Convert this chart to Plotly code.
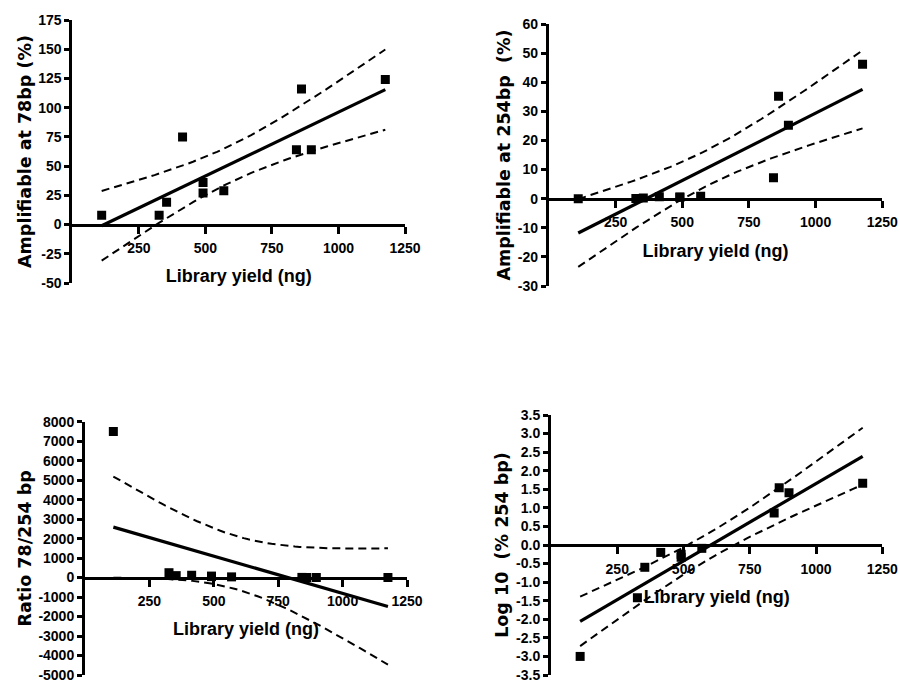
import numpy as np
import plotly.graph_objects as go

# ---------------- data ----------------
library_yield = [110, 326, 354, 414, 491, 491, 569, 842, 861, 898, 1176]
amplifiable_78bp = [8, 8, 19, 75, 36, 27, 29, 64, 116, 64, 124]
amplifiable_254bp = [0.001, 0.038, 0.25, 0.63, 0.47, 0.56, 0.81, 7.2, 35.2, 25.2, 46.2]
ratio_78_254 = [7500, 250, 100, 119, 77, 48, 36, 9, 3, 3, 3]
log10_254bp = [-3.0, -1.42, -0.6, -0.2, -0.33, -0.25, -0.09, 0.86, 1.54, 1.41, 1.66]

x_tick_vals = [250, 500, 750, 1000, 1250]
y1_ticks = [-50, -25, 0, 25, 50, 75, 100, 125, 150, 175]
y2_ticks = [-30, -20, -10, 0, 10, 20, 30, 40, 50, 60]
y3_ticks = [-5000, -4000, -3000, -2000, -1000, 0, 1000, 2000, 3000, 4000, 5000, 6000, 7000, 8000]
y4_ticks = [-3.5, -3.0, -2.5, -2.0, -1.5, -1.0, -0.5, 0.0, 0.5, 1.0, 1.5, 2.0, 2.5, 3.0, 3.5]

x_title = "Library yield (ng)"
y_titles = ["Amplifiable at 78bp (%)",
            "Amplifiable at 254bp\u00a0 (%)",
            "Ratio 78/254 bp",
            "Log 10\u00a0 (% 254 bp)"]

T_CRIT_DF9 = 2.262  # 95% two-sided t for n-2 = 9 degrees of freedom


def linear_fit_with_ci(x, y, n_pts=60):
    x = np.asarray(x, float)
    y = np.asarray(y, float)
    n = len(x)
    slope, intercept = np.polyfit(x, y, 1)
    resid = y - (slope * x + intercept)
    s = np.sqrt(np.sum(resid ** 2) / (n - 2))
    sxx = np.sum((x - x.mean()) ** 2)
    xs = np.linspace(x.min(), x.max(), n_pts)
    fit = slope * xs + intercept
    half = T_CRIT_DF9 * s * np.sqrt(1.0 / n + (xs - x.mean()) ** 2 / sxx)
    return xs, fit, fit - half, fit + half


panels = [
    (amplifiable_78bp, y1_ticks, y_titles[0], None),
    (amplifiable_254bp, y2_ticks, y_titles[1], None),
    (ratio_78_254, y3_ticks, y_titles[2], None),
    (log10_254bp, y4_ticks, y_titles[3], ".1f"),
]

W, H = 900, 684
# plot-area boxes in pixels (left, right, top, bottom)
boxes = [(72.4, 405, 20, 283), (548.9, 882.3, 24, 286),
         (85, 407, 421.7, 675), (551, 882.3, 415, 675)]

tick_font = dict(family="Liberation Sans, Arial, sans-serif", size=14, color="black", weight="bold")
xtitle_font = dict(family="Liberation Sans, Arial, sans-serif", size=18, color="black", weight="bold")
ytitle_font = dict(family="DejaVu Sans, sans-serif", size=17.5, color="black", weight="bold")

fig = go.Figure()
layout = {}
for i, (yvals, yticks, ytitle, fmt) in enumerate(panels, start=1):
    xa = "x" if i == 1 else f"x{i}"
    ya = "y" if i == 1 else f"y{i}"
    xs, fit, lo, hi = linear_fit_with_ci(library_yield, yvals)
    for band in (lo, hi):
        fig.add_trace(go.Scatter(x=xs, y=band, mode="lines", xaxis=xa, yaxis=ya,
                                 line=dict(color="black", width=2, dash="8px,5px"),
                                 showlegend=False, hoverinfo="skip"))
    fig.add_trace(go.Scatter(x=xs, y=fit, mode="lines", xaxis=xa, yaxis=ya,
                             line=dict(color="black", width=3.2),
                             showlegend=False, hoverinfo="skip"))
    fig.add_trace(go.Scatter(x=library_yield, y=yvals, mode="markers", xaxis=xa, yaxis=ya,
                             marker=dict(symbol="square", size=9, color="black"),
                             showlegend=False))

    l, r, t, b = boxes[i - 1]
    ylo, yhi = yticks[0], yticks[-1]
    ydom = [1 - b / H, 1 - t / H]
    zero_pos = ydom[0] + (0 - ylo) / (yhi - ylo) * (ydom[1] - ydom[0])
    if fmt:
        ytext = [format(v, fmt) for v in yticks]
    else:
        ytext = [str(v) for v in yticks]
    layout["xaxis" if i == 1 else f"xaxis{i}"] = dict(
        domain=[l / W, r / W], range=[0, 1250], anchor="free", position=zero_pos,
        automargin=False, ticklabeloverflow="allow",
        tickvals=x_tick_vals, ticktext=[str(v) for v in x_tick_vals],
        ticks="outside", ticklen=7, tickwidth=2.5, tickcolor="black",
        ticklabelstandoff=3,
        showline=True, linewidth=3, linecolor="black", showgrid=False, zeroline=False,
        tickfont=tick_font,
        title=dict(text=x_title, font=xtitle_font, standoff=14))
    layout["yaxis" if i == 1 else f"yaxis{i}"] = dict(
        domain=ydom, range=[ylo, yhi], anchor=xa, automargin=False,
        ticklabeloverflow="allow",
        tickvals=yticks, ticktext=ytext,
        ticks="outside", ticklen=5, tickwidth=2.5, tickcolor="black",
        showline=True, linewidth=3, linecolor="black", showgrid=False, zeroline=False,
        tickfont=tick_font,
        title=dict(text=ytitle, font=ytitle_font, standoff=3))

fig.update_layout(width=W, height=H, margin=dict(l=0, r=0, t=0, b=0, autoexpand=False),
                  template="none",
                  paper_bgcolor="white", plot_bgcolor="white", showlegend=False,
                  **layout)
# remove the default 8px page margin so the 900x684 figure fills the window exactly
fig.write_html("out.html",
               config={"displayModeBar": False},
               post_script="document.body.style.margin='0';document.body.style.overflow='hidden';")
